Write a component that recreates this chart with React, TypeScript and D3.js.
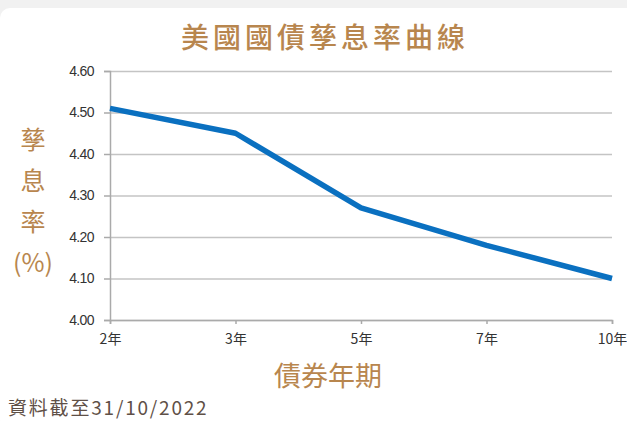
import { useEffect, useRef } from 'react'
import * as d3 from 'd3'

const tenors = ['2年', '3年', '5年', '7年', '10年']
const yields = [4.51, 4.45, 4.27, 4.18, 4.1]
const yTicks = [4.0, 4.1, 4.2, 4.3, 4.4, 4.5, 4.6]

const W = 627
const H = 421
const brown = '#b8864e'
const fontCJK = '"Noto Sans CJK TC", "Noto Sans", sans-serif'

export default function App() {
  const svgRef = useRef<SVGSVGElement>(null)

  useEffect(() => {
    const svg = d3.select(svgRef.current!)
    svg.selectAll('*').remove()

    const margin = { top: 71, right: 15, bottom: 101, left: 110 }
    const innerW = W - margin.left - margin.right
    const innerH = H - margin.top - margin.bottom

    // background band + card
    svg.append('rect').attr('width', W).attr('height', H).attr('fill', '#f1f1f1')
    svg.append('rect').attr('x', 0).attr('y', 8).attr('width', W + 20).attr('height', H)
      .attr('rx', 10).attr('fill', '#fff')

    const x = d3.scalePoint<string>().domain(tenors).range([0, innerW])
    const y = d3.scaleLinear().domain([4.0, 4.6]).range([innerH, 0])

    const g = svg.append('g').attr('transform', `translate(${margin.left},${margin.top})`)

    // gridlines
    g.append('g')
      .call(d3.axisLeft(y).tickValues(yTicks).tickSize(-innerW).tickFormat(() => ''))
      .call(s => s.select('.domain').remove())
      .call(s => s.selectAll('.tick line').attr('stroke', '#c4c4c4').attr('stroke-width', 1.5))

    // y axis
    const yAxisG = g.append('g')
      .call(d3.axisLeft(y).tickValues(yTicks).tickSize(6).tickPadding(10).tickFormat(d3.format('.2f')))
    yAxisG.select('.domain').attr('stroke', '#aaa').attr('stroke-width', 1.5)
    yAxisG.selectAll('.tick line').attr('stroke', '#aaa').attr('stroke-width', 1.5)
    yAxisG.selectAll('text')
      .style('fill', '#333')
      .style('font-size', '14px')
      .style('font-family', '"Liberation Sans", Arial, sans-serif')
      .style('letter-spacing', '-0.6px')

    // x axis
    const xAxisG = g.append('g').attr('transform', `translate(0,${innerH})`)
      .call(d3.axisBottom(x).tickSize(4).tickPadding(10))
    xAxisG.select('.domain').attr('stroke', '#aaa').attr('stroke-width', 1.5)
    xAxisG.selectAll('.tick line').attr('stroke', '#aaa').attr('stroke-width', 1.5)
    xAxisG.selectAll('text')
      .style('fill', '#333')
      .style('font-size', '14px')
      .style('font-family', fontCJK)

    // line
    const line = d3.line<number>()
      .x((_, i) => x(tenors[i])!)
      .y(d => y(d))
    g.append('path')
      .datum(yields)
      .attr('fill', 'none')
      .attr('d', line)
      .attr('stroke', '#0a70c0')
      .attr('stroke-width', 5.5)
      .attr('stroke-linejoin', 'round')

    // title
    svg.append('text')
      .attr('x', 325).attr('y', 48)
      .attr('text-anchor', 'middle')
      .style('fill', brown)
      .style('font-size', '28px')
      .style('font-weight', '500')
      .style('letter-spacing', '4px')
      .style('font-family', fontCJK)
      .text('美國國債孳息率曲線')

    // y axis title (vertical)
    const yLabel = ['孳', '息', '率', '(%)']
    svg.append('g').selectAll('text')
      .data(yLabel)
      .enter()
      .append('text')
      .attr('x', 33)
      .attr('y', (_, i) => 149 + i * 41)
      .attr('text-anchor', 'middle')
      .style('fill', brown)
      .style('font-size', '25px')
      .style('font-family', fontCJK)
      .text(d => d)

    // x axis title
    svg.append('text')
      .attr('x', 328).attr('y', 386)
      .attr('text-anchor', 'middle')
      .style('fill', brown)
      .style('font-size', '27px')
      .style('font-family', fontCJK)
      .text('債券年期')

    // footnote
    svg.append('text')
      .attr('x', 8).attr('y', 415)
      .style('fill', '#5f5047')
      .style('font-size', '19px')
      .style('letter-spacing', '1.8px')
      .style('font-family', fontCJK)
      .text('資料截至31/10/2022')
  }, [])

  return (
    <svg ref={svgRef} width={W} height={H}
      style={{ position: 'absolute', left: 0, top: 0, display: 'block' }} />
  )
}
